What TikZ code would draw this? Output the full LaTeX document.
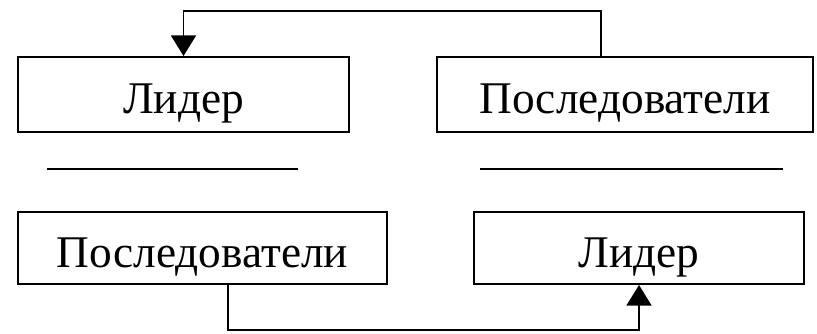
\documentclass[tikz,border=0pt]{standalone}
\usepackage{fontspec}
\newfontfamily\boxfont{Liberation Serif}
\usetikzlibrary{arrows.meta}

\begin{document}
\begin{tikzpicture}[x=0.03cm,y=-0.03cm,
  box/.style={draw,fill=white,line width=1.7pt,align=center,inner sep=0pt,
    text height=33pt,text depth=0pt,
    font=\boxfont\fontsize{38.7}{44}\selectfont},
  sep/.style={line width=1.7pt},
  arr/.style={-{Triangle[width=0.75cm,length=0.62cm]},line width=1.7pt}]
\useasboundingbox (0,0) rectangle (817,333);
\node[box,minimum width=9.93cm,minimum height=2.25cm] (lead1) at (183.5,94.5) {Лидер};
\node[box,minimum width=11.28cm,minimum height=2.25cm] (fol1) at (625,94.5) {Последователи};
\node[box,minimum width=11.07cm,minimum height=2.16cm] (fol2) at (202.5,248) {Последователи};
\node[box,minimum width=9.9cm,minimum height=2.16cm] (lead2) at (639,248) {Лидер};
% separators
\draw[sep] (47,169) -- (298,169);
\draw[sep] (480,169) -- (783,169);
% who follows whom
\draw[arr] ([xshift=-0.72cm]fol1.north) -- ++(0,-45) -| (lead1.north);
\draw[arr] ([xshift=0.765cm]fol2.south) -- ++(0,45) -| (lead2.south);
\end{tikzpicture}
\end{document}
